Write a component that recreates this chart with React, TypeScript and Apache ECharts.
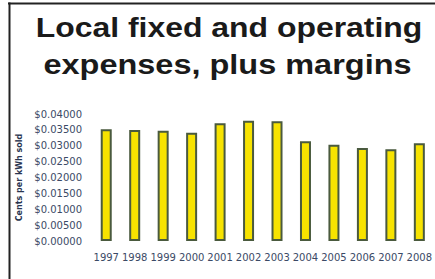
import React, { useEffect, useRef } from "react";
import * as echarts from "echarts";

const years = ["1997", "1998", "1999", "2000", "2001", "2002", "2003", "2004", "2005", "2006", "2007", "2008"];
const values = [0.0352, 0.035, 0.0347, 0.0341, 0.0371, 0.0379, 0.0377, 0.0314, 0.0303, 0.0293, 0.0289, 0.0308];
const titleLines = ["Local fixed and operating", "expenses, plus margins"];
const yAxisTitle = "Cents per kWh sold";

export default function App() {
  const ref = useRef<HTMLDivElement>(null);
  useEffect(() => {
    if (!ref.current) return;
    const chart = echarts.init(ref.current, null, { renderer: "svg" });
    chart.setOption({
      animation: false,
      backgroundColor: "#ffffff",
      grid: { left: 92, right: 0, top: 114, bottom: 38, containLabel: false },
      xAxis: {
        type: "category",
        data: years,
        axisLine: { show: false },
        axisTick: { show: false },
        axisLabel: { fontFamily: "DejaVu Sans", fontSize: 10, color: "#3b4a66", margin: 11, interval: 0 },
      },
      yAxis: {
        type: "value",
        min: 0,
        max: 0.04,
        interval: 0.005,
        name: yAxisTitle,
        nameLocation: "middle",
        nameGap: 66,
        nameTextStyle: { fontFamily: "DejaVu Sans", fontSize: 8, fontWeight: "bold", color: "#2a3550" },
        axisLine: { show: false },
        axisTick: { show: false },
        splitLine: { show: false },
        axisLabel: {
          fontFamily: "DejaVu Sans",
          fontSize: 10,
          color: "#3b4a66",
          margin: 10,
          formatter: (v: number) => "$" + v.toFixed(5),
        },
      },
      series: [
        {
          type: "bar",
          data: values,
          barWidth: 11,
          itemStyle: { color: "#f7e300", borderColor: "#4a5a3e", borderWidth: 2 },
        },
      ],
      graphic: [
        { type: "line", shape: { x1: 8, y1: 3.5, x2: 435, y2: 3.5 }, style: { stroke: "#222222", lineWidth: 2 } },
        { type: "line", shape: { x1: 9.5, y1: 2.5, x2: 9.5, y2: 279 }, style: { stroke: "#222222", lineWidth: 2 } },
        {
          type: "text",
          x: 229,
          y: 26.8,
          scaleX: 1.14,
          style: {
            text: titleLines[0],
            font: 'bold 28px "Liberation Sans"',
            fill: "#1a1a1a",
            align: "center",
            textAlign: "center",
            verticalAlign: "middle",
            textVerticalAlign: "middle",
          },
        },
        {
          type: "text",
          x: 227.5,
          y: 64.1,
          scaleX: 1.16,
          style: {
            text: titleLines[1],
            font: 'bold 28px "Liberation Sans"',
            fill: "#1a1a1a",
            align: "center",
            textAlign: "center",
            verticalAlign: "middle",
            textVerticalAlign: "middle",
          },
        },
      ],
    });
    return () => chart.dispose();
  }, []);
  return <div ref={ref} style={{ position: "absolute", left: 0, top: 0, width: 435, height: 279 }} />;
}
